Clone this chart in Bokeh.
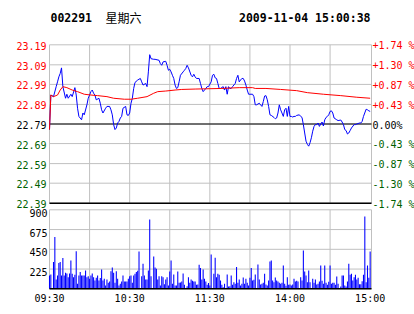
from bokeh.plotting import figure
from bokeh.models import Range1d
from bokeh.embed import file_html
from bokeh.resources import INLINE
from bokeh.core.properties import value

# ---------------- data ----------------
stock_code = "002291"
weekday = "星期六"
timestamp = "2009-11-04 15:00:38"
prev_close = 22.79

pct_ticks = [1.74, 1.30, 0.87, 0.43, 0.00, -0.43, -0.87, -1.30, -1.74]
price_tick_labels = ["23.19", "23.09", "22.99", "22.89", "22.79", "22.69", "22.59", "22.49", "22.39"]
pct_tick_labels = ["+1.74 %", "+1.30 %", "+0.87 %", "+0.43 %", " 0.00%", "-0.43 %", "-0.87 %", "-1.30 %", "-1.74 %"]

time_ticks = [0, 60, 120, 180, 240]          # trading minutes since 09:30
time_labels = ["09:30", "10:30", "11:30", "14:00", "15:00"]
time_grid = [30, 60, 90, 120, 150, 180, 210]
vol_ticks = [900, 675, 450, 225]
vol_max = 900
session_minutes = 241

# price (blue) : trading minute -> price
price_min = [0, 1, 3, 5, 6, 7, 8, 9, 10, 12, 13, 14, 16, 17, 19, 20, 21, 22, 24, 25,
             26, 28, 29, 30, 31, 32, 33, 34, 35, 37, 38, 39, 40, 42, 43, 45, 46, 47, 48, 49,
             50, 51, 52, 53, 54, 55, 57, 58, 59, 60, 61, 62, 63, 64, 66, 68, 69, 70, 72, 73,
             74, 75, 76, 78,
             79, 82, 83, 84, 85, 87, 88, 89, 90, 91, 92, 93, 94, 95, 96, 97, 98, 100, 101, 102,
             103, 104, 106, 107, 108, 109, 110, 112, 113, 114, 115, 117, 118, 119,
             121, 122, 123, 124, 125, 126, 127, 128, 130, 131, 132, 133, 134, 135, 136, 137,
             139, 140, 141, 142, 143, 144, 145, 146, 147, 148, 149, 150, 152, 153, 154, 155,
             157, 158, 159, 160, 161,
             162, 163, 164, 165, 166, 168, 169, 170, 171, 172, 173, 174, 175, 176, 177, 178,
             179, 180, 181, 182, 183, 184, 185, 187, 188, 189, 190, 191, 192, 193, 194, 195,
             196, 197, 198, 199, 200, 201, 202, 203, 204, 205, 206, 207, 208, 209, 210, 211,
             212, 213, 215, 216, 218, 219, 220, 221, 222, 223, 224, 225, 226, 228, 229, 230,
             232, 233, 234, 235, 237, 238, 239, 240]
price = [22.762, 22.935, 22.927, 22.977, 23.001, 23.026, 23.043, 23.071, 22.977, 22.919,
         22.939, 22.919, 22.939, 22.927, 22.972, 22.935, 22.869, 22.828, 22.811, 22.845,
         22.836, 22.886, 22.919, 22.935, 22.952, 22.960, 22.944, 22.935, 22.911, 22.919,
         22.894, 22.861, 22.845, 22.869, 22.878, 22.878, 22.861, 22.836, 22.787, 22.762,
         22.770, 22.795, 22.803, 22.820, 22.828, 22.869, 22.878, 22.836, 22.833, 22.845,
         22.894, 22.919, 22.968, 22.998, 23.010, 23.018, 23.001, 22.985, 22.993, 22.977,
         23.051, 23.137, 23.117, 23.114,
         23.114, 23.109, 23.092, 23.084, 23.101, 23.104, 23.084, 23.059, 23.064, 23.051,
         23.034, 23.018, 22.985, 22.968, 22.972, 23.001, 23.034, 23.051, 23.059, 23.068,
         23.084, 23.071, 23.034, 23.026, 23.039, 23.026, 23.018, 23.018, 22.993, 22.968,
         22.952, 22.968, 22.977, 22.977,
         23.001, 23.034, 23.039, 23.021, 23.018, 22.993, 22.968, 22.968, 22.977, 22.960,
         22.977, 22.939, 22.977, 22.968, 22.968, 22.977, 22.993, 23.018, 23.034, 23.001,
         23.010, 23.018, 23.018, 23.005, 22.985, 22.960, 22.939, 22.939, 22.939, 22.927,
         22.886, 22.886, 22.894, 22.886, 22.878, 22.902, 22.930,
         22.932, 22.911, 22.878, 22.836, 22.833, 22.823, 22.816, 22.820, 22.845, 22.886,
         22.861, 22.845, 22.828, 22.861, 22.869, 22.828, 22.878, 22.828, 22.828, 22.825,
         22.828, 22.828, 22.833, 22.836, 22.828, 22.823, 22.787, 22.745, 22.704, 22.688,
         22.679, 22.696, 22.721, 22.754, 22.778, 22.787, 22.787, 22.795, 22.778, 22.790,
         22.800, 22.780, 22.811, 22.823, 22.828, 22.836, 22.853, 22.856, 22.845, 22.820,
         22.811, 22.807, 22.810, 22.800, 22.787, 22.762, 22.757, 22.740, 22.745, 22.757,
         22.770, 22.787, 22.787, 22.790, 22.795, 22.795, 22.803, 22.828, 22.864, 22.861,
         22.856, 22.853]

# average price (red)
avg_min = [0, 1, 3, 6, 8, 10, 13, 17, 21, 26, 31, 36, 43, 48, 56, 61, 66, 73, 78, 81,
           87, 94, 99, 109, 129, 142, 152, 154, 162, 173, 185, 193, 205, 218, 230, 240]
avg_price = [22.762, 22.935, 22.927, 22.935, 22.960, 22.977, 22.972, 22.960, 22.952, 22.939,
             22.935, 22.932, 22.927, 22.919, 22.914, 22.914, 22.919, 22.927, 22.944, 22.952,
             22.955, 22.960, 22.963, 22.965, 22.968, 22.972, 22.972, 22.968, 22.968, 22.963,
             22.957, 22.947, 22.939, 22.932, 22.924, 22.919]

# volume bars
vol_min = [0, 1, 3, 4, 5, 6, 7, 8, 9, 10, 11, 12, 13, 14, 15, 16, 17, 18, 19, 20,
           21, 22, 23, 24, 25, 26, 27, 28, 29, 30, 31, 32, 33, 34, 35, 36, 37, 38, 39, 40,
           41, 42, 43, 44, 45, 46, 47, 48, 49, 50, 51, 52, 53, 54, 55, 56, 57, 58, 59, 60,
           61, 62, 63, 64, 65, 66, 67, 69, 70, 71, 72, 73, 74, 75, 76, 78, 79, 80, 81, 82,
           83, 84, 85, 86, 87, 88, 89, 90, 91, 92, 93, 94, 95, 96, 97, 98, 99, 100, 101, 103,
           104, 105, 106, 107, 108, 109, 110, 111, 112, 113, 114, 115, 116, 117, 118, 119, 120,
           121, 123, 124, 125, 126, 127, 128, 129, 130, 131, 133, 134, 135, 136, 137, 138, 139,
           140, 141, 142, 143, 144, 145, 146, 147, 148, 149, 150, 151, 152, 153, 154, 156, 157,
           158, 159, 160, 161, 162, 163, 164, 165, 166, 167, 168, 169, 170, 171, 172, 173, 174,
           175, 176, 177, 178, 179, 180, 181, 182, 183, 184, 185, 186, 188, 189, 190, 191, 192,
           193, 194, 195, 197, 198, 199, 200, 201, 202, 203, 204, 205, 206, 207, 208, 209, 210,
           211, 212, 213, 214, 215, 216, 218, 219, 220, 221, 222, 223, 224, 225, 226, 227, 228,
           229, 230, 231, 232, 233, 234, 235, 236, 237, 238, 239, 240]
volume = [152, 163, 304, 589, 106, 152, 293, 304, 152, 350, 152, 182, 175, 133, 175, 323, 171, 133, 160, 429,
          57, 152, 190, 152, 152, 152, 209, 133, 144, 114, 152, 175, 133, 95, 125, 152, 95, 122, 220, 95,
          114, 38, 106, 68, 84, 201, 243, 182, 68, 201, 114, 38, 57, 84, 152, 84, 84, 84, 114, 144,
          152, 68, 152, 171, 190, 205, 426, 144, 285, 152, 106, 106, 209, 790, 144, 369, 243, 228, 106, 144,
          38, 144, 133, 53, 106, 133, 38, 198, 323, 57, 163, 38, 38, 198, 68, 72, 84, 175, 46, 30,
          133, 68, 106, 91, 84, 84, 46, 49, 274, 236, 106, 220, 114, 84, 46, 65, 38,
          391, 171, 353, 133, 171, 160, 95, 46, 19, 57, 163, 27, 30, 152, 46, 76, 57,
          247, 68, 106, 38, 57, 129, 57, 114, 68, 38, 125, 236, 95, 103, 163, 277, 106,
          49, 57, 68, 171, 49, 38, 95, 312, 323, 95, 76, 129, 95, 84, 68, 57, 68,
          266, 57, 34, 133, 46, 49, 38, 49, 114, 84, 91, 84, 133, 95, 437, 198, 152,
          76, 209, 76, 114, 68, 106, 49, 57, 84, 266, 91, 57, 266, 68, 46, 80, 266,
          57, 68, 68, 46, 141, 57, 27, 152, 152, 38, 27, 84, 285, 160, 171, 95, 133,
          160, 106, 125, 53, 53, 87, 160, 825, 76, 266, 125, 426]

# ---------------- layout (pixels) & styling ----------------
MONO = "DejaVu Sans Mono"
RED = "#ff0000"
GREEN = "#005f00"
BLUE = "#0000ff"
GRID = "#c0c0c0"
W, H = 414, 314
PLOT_L, PLOT_R = 49.0, 371.0          # chart area left/right (px from left)
PRICE_TOP, PRICE_BOT = 44.3, 202.7    # price panel (px from top)
VOL_TOP, VOL_BOT = 209.3, 288.3       # volume panel (px from top)

X0, X1 = 0, session_minutes
ppm = (PLOT_R - PLOT_L) / (X1 - X0)
p_lo = prev_close * (1 + pct_ticks[-1] / 100)
p_hi = prev_close * (1 + pct_ticks[0] / 100)
ppx = (p_hi - p_lo) / (PRICE_BOT - PRICE_TOP)
vpx = vol_max / (VOL_BOT - VOL_TOP)

x_range = Range1d(X0 - PLOT_L / ppm, X1 + (W - PLOT_R) / ppm)
y_range = Range1d(p_lo - (H - PRICE_BOT) * ppx, p_hi + PRICE_TOP * ppx)
vol_range = Range1d(0 - (H - VOL_BOT) * vpx, vol_max + VOL_TOP * vpx)

tick_prices = [prev_close * (1 + v / 100) for v in pct_ticks]
tick_colors = [RED if v > 0 else ("#000000" if v == 0 else GREEN) for v in pct_ticks]

p = figure(width=W, height=H, x_range=x_range, y_range=y_range,
           x_axis_type=None, y_axis_type=None, toolbar_location=None, output_backend="svg",
           min_border=0)
p.extra_y_ranges = {"vol": vol_range}
p.outline_line_color = None
p.grid.visible = False
p.background_fill_color = "white"
p.border_fill_color = "white"

# ---- price panel grid ----
inner = tick_prices[1:-1]
p.segment(x0=[X0] * len(inner), x1=[X1] * len(inner), y0=inner, y1=inner, line_color=GRID, line_width=1)
p.segment(x0=time_grid, x1=time_grid, y0=[p_lo] * len(time_grid), y1=[p_hi] * len(time_grid),
          line_color=GRID, line_width=1)
p.quad(left=[X0], right=[X1], bottom=[p_lo], top=[p_hi], fill_alpha=0, line_color=GRID, line_width=1)
p.segment(x0=[X0], x1=[X1], y0=[prev_close], y1=[prev_close], line_color="black", line_width=1)
p.segment(x0=[X0], x1=[X1], y0=[p_lo], y1=[p_lo], line_color="black", line_width=1.5)

p.line(price_min, price, line_color=BLUE, line_width=1)
p.line(avg_min, avg_price, line_color=RED, line_width=1)

# ---- volume panel ----
vin = vol_ticks[1:]
p.segment(x0=[X0] * len(vin), x1=[X1] * len(vin), y0=vin, y1=vin, line_color=GRID, line_width=1,
          y_range_name="vol")
p.segment(x0=time_grid, x1=time_grid, y0=[0] * len(time_grid), y1=[vol_max] * len(time_grid),
          line_color=GRID, line_width=1, y_range_name="vol")
p.quad(left=[X0], right=[X1], bottom=[0], top=[vol_max], fill_alpha=0, line_color=GRID, line_width=1,
       y_range_name="vol")
p.vbar(x=vol_min, top=volume, bottom=0, width=0.8, fill_color=BLUE, line_color=None, y_range_name="vol")
p.segment(x0=[X0], x1=[X1], y0=[0], y1=[0], line_color="black", line_width=1.5, y_range_name="vol")

# ---- texts ----
p.text(x=[X0] * len(tick_prices), y=tick_prices, text=price_tick_labels, text_color=tick_colors,
       text_align="right", text_baseline="middle", x_offset=-3, y_offset=1,
       text_font=value(MONO), text_font_size="10px")
p.text(x=[X1] * len(tick_prices), y=tick_prices, text=pct_tick_labels, text_color=tick_colors,
       text_align="left", text_baseline="middle", x_offset=1, y_offset=1,
       text_font=value(MONO), text_font_size="10px")
p.text(x=[X0] * len(vol_ticks), y=vol_ticks, text=[str(t) for t in vol_ticks], text_color="black",
       text_align="right", text_baseline="middle", x_offset=-2, y_offset=3,
       text_font=value(MONO), text_font_size="10px", y_range_name="vol")
p.text(x=time_ticks, y=[0] * len(time_ticks), text=time_labels, text_color="black",
       text_align="center", text_baseline="middle", x_offset=0, y_offset=10,
       text_font=value(MONO), text_font_size="10px", y_range_name="vol")

# header
p.text(x=[X0], y=[p_hi], text=[stock_code], text_align="left", text_baseline="middle",
       x_offset=1, y_offset=-27, text_font=value(MONO), text_font_style="bold",
       text_font_size="11.5px", text_color="black")
p.text(x=[X0], y=[p_hi], text=[weekday], text_align="left", text_baseline="middle",
       x_offset=56, y_offset=-27, text_font=value("Noto Sans CJK SC"),
       text_font_size="12px", text_color="black")
p.text(x=[X1], y=[p_hi], text=[timestamp], text_align="right", text_baseline="middle",
       x_offset=-1, y_offset=-27, text_font=value(MONO), text_font_style="bold",
       text_font_size="11.5px", text_color="black")

open("out.html", "w").write(file_html(p, INLINE))
